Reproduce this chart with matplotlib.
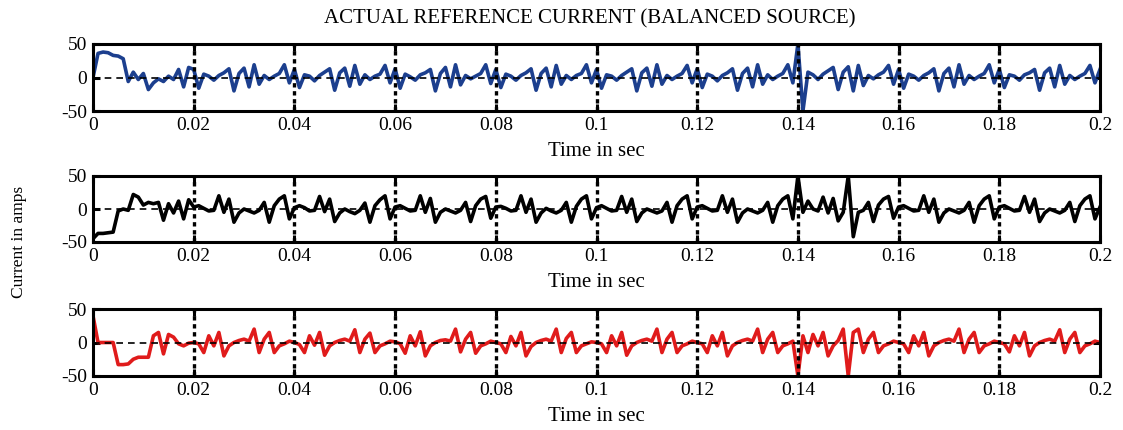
import numpy as np
import matplotlib
matplotlib.use("Agg")
import matplotlib.pyplot as plt

# ---------------- data (1 ms samples, 20 per 0.02 s cycle) ----------------
sample_ms = 1.0
x_ticks = [0, 0.02, 0.04, 0.06, 0.08, 0.1, 0.12, 0.14, 0.16, 0.18, 0.2]
x_tick_labels = ["0", "0.02", "0.04", "0.06", "0.08", "0.1", "0.12", "0.14", "0.16", "0.18", "0.2"]
y_ticks = [-50, 0, 50]
y_tick_labels = ["-50", "0", "50"]

# phase a (blue)
current_a = [
    0, 36, 38, 37, 33, 32, 28, -6, 8, -3, 6, -18, -8, -2, -6, 2, -3, 12, -14, 15,
    12, -16, 5, 2, -4, 3, 7, 13, -20, 6, 14, -14, 19, -10, 3, -3, 2, 6, 19, -8,
    12, -15, 4, 2, -5, 3, 8, 13, -19, 7, 14, -13, 18, -10, 4, -3, 2, 5, 18, -8,
    13, -16, 5, 1, -4, 4, 7, 12, -20, 6, 15, -14, 19, -11, 3, -2, 2, 6, 19, -9,
    12, -15, 5, 2, -4, 3, 7, 13, -19, 6, 14, -14, 18, -10, 3, -3, 3, 6, 19, -8,
    12, -16, 4, 2, -4, 3, 8, 13, -20, 7, 14, -13, 19, -10, 3, -3, 2, 6, 18, -8,
    13, -15, 5, 2, -5, 3, 7, 13, -19, 6, 14, -14, 19, -10, 4, -3, 2, 6, 19, -8,
    50, -50, 8, 4, -3, 5, 10, 15, -18, 8, 16, -20, 18, -12, 3, -2, 4, 8, 18, -10,
    12, -16, 5, 2, -4, 3, 7, 13, -20, 6, 14, -14, 19, -10, 3, -3, 2, 6, 19, -8,
    12, -15, 4, 2, -4, 4, 7, 12, -19, 7, 14, -14, 18, -10, 3, -3, 2, 6, 18, -8,
    12,
]

# phase b (black)
current_b = [
    -45, -37, -37, -36, -35, -3, 0, -2, 22, 18, 6, 10, 8, 10, -17, 8, -6, 12, -15, 14,
    3, 5, 1, -3, -2, 20, -5, 15, -20, -6, 0, -3, -6, -2, 10, -20, 5, 15, 20, -15,
    2, 5, 2, -3, -2, 19, -4, 15, -19, -6, 0, -4, -7, -2, 9, -20, 5, 14, 20, -15,
    3, 5, 1, -3, -2, 20, -5, 16, -20, -5, 0, -3, -6, -2, 10, -19, 5, 15, 19, -14,
    3, 4, 1, -3, -2, 20, -5, 15, -20, -6, 1, -3, -6, -2, 10, -20, 4, 15, 20, -15,
    2, 5, 1, -3, -2, 19, -5, 15, -19, -6, 0, -3, -6, -3, 10, -20, 5, 15, 20, -15,
    3, 5, 1, -3, -2, 20, -5, 15, -20, -6, 0, -3, -6, -2, 10, -20, 5, 15, 20, -15,
    50, -5, 12, 0, -3, 18, -6, 16, -18, -5, 50, -42, -5, -2, 10, -19, 6, 15, 19, -14,
    3, 5, 1, -3, -2, 20, -5, 15, -20, -6, 0, -3, -6, -2, 10, -20, 5, 15, 20, -15,
    3, 5, 1, -3, -2, 19, -5, 15, -19, -6, 0, -3, -6, -2, 10, -19, 5, 15, 20, -15,
    3,
]

# phase c (red)
current_c = [
    40, 0, 0, 0, 0, -33, -33, -32, -25, -22, -22, -22, 10, 15, -17, 12, 8, -2, -5, -1,
    0, -2, -15, 10, -5, 15, -20, -5, 0, 3, 5, 2, 20, -15, 5, 15, -15, -5, -2, 2,
    0, -3, -15, 10, -4, 15, -19, -5, 0, 3, 5, 2, 19, -15, 5, 14, -15, -5, -2, 2,
    1, -2, -16, 10, -5, 16, -20, -5, 0, 3, 4, 2, 20, -14, 5, 15, -16, -5, -2, 2,
    0, -2, -15, 9, -5, 15, -20, -6, 0, 3, 5, 2, 20, -15, 6, 15, -15, -5, -2, 1,
    0, -2, -15, 10, -5, 15, -19, -5, 0, 3, 5, 2, 20, -15, 5, 15, -15, -5, -2, 2,
    0, -2, -15, 10, -5, 15, -20, -5, 0, 3, 5, 2, 20, -15, 5, 15, -15, -5, -2, 2,
    -50, 10, -15, 12, -5, 15, -20, -5, 3, 20, -50, 15, 20, -15, 5, 15, -15, -5, -2, 2,
    0, -2, -15, 10, -5, 15, -20, -5, 0, 3, 5, 2, 20, -15, 5, 15, -15, -5, -2, 2,
    0, -2, -14, 10, -5, 15, -20, -5, 0, 3, 5, 2, 19, -15, 5, 15, -15, -5, -2, 2,
    0,
]

series = [current_a, current_b, current_c]
colors = ["#1c3f8e", "#000000", "#e01b1b"]

title_text = "ACTUAL REFERENCE CURRENT (BALANCED SOURCE)"
x_label = "Time in sec"
y_label = "Current in amps"

# ---------------- figure ----------------
plt.rcParams["font.family"] = ["Liberation Serif", "DejaVu Serif"]

W, H = 1123, 430
fig = plt.figure(figsize=(W / 100, H / 100), dpi=100)
fig.patch.set_facecolor("white")

left = 93 / W
width = (1100 - 93) / W
tops = [44, 176, 309]
bottoms = [111, 242, 376]

for i, vals in enumerate(series):
    y = np.asarray(vals, dtype=float)
    t = np.arange(len(y)) * sample_ms / 1000.0
    ax = fig.add_axes([left, 1 - bottoms[i] / H, width, (bottoms[i] - tops[i]) / H])
    ax.plot(t, y, color=colors[i], lw=2.6, solid_joinstyle="round", zorder=2)
    ax.set_xlim(0, 0.2)
    ax.set_ylim(-50, 50)
    ax.set_xticks(x_ticks)
    ax.set_xticklabels(x_tick_labels)
    ax.set_yticks(y_ticks)
    ax.set_yticklabels(y_tick_labels)
    # vertical grid (dotted, heavy)
    for xv in x_ticks[1:-1]:
        ax.axvline(xv, color="black", lw=2.4, ls=(0, (1.3, 1.1)), zorder=3)
    # horizontal grid at zero (dashed)
    ax.axhline(0, color="black", lw=1.2, ls=(0, (4, 3)), zorder=3)
    for sp in ax.spines.values():
        sp.set_linewidth(2.2)
        sp.set_zorder(4)
    ax.tick_params(direction="in", length=5, width=2.2, top=True, right=True,
                   labelsize=14, pad=4)
    ax.tick_params(axis="y", pad=4)
    ax.set_xlabel(x_label, fontsize=15, labelpad=6)

fig.text(0.525, 1 - 19 / H, title_text, ha="center", va="center", fontsize=15)
fig.text(0.017, 1 - 242 / H, y_label, ha="center", va="center", rotation=90, fontsize=12.5)

fig.savefig("out.png", dpi=100, facecolor="white")
